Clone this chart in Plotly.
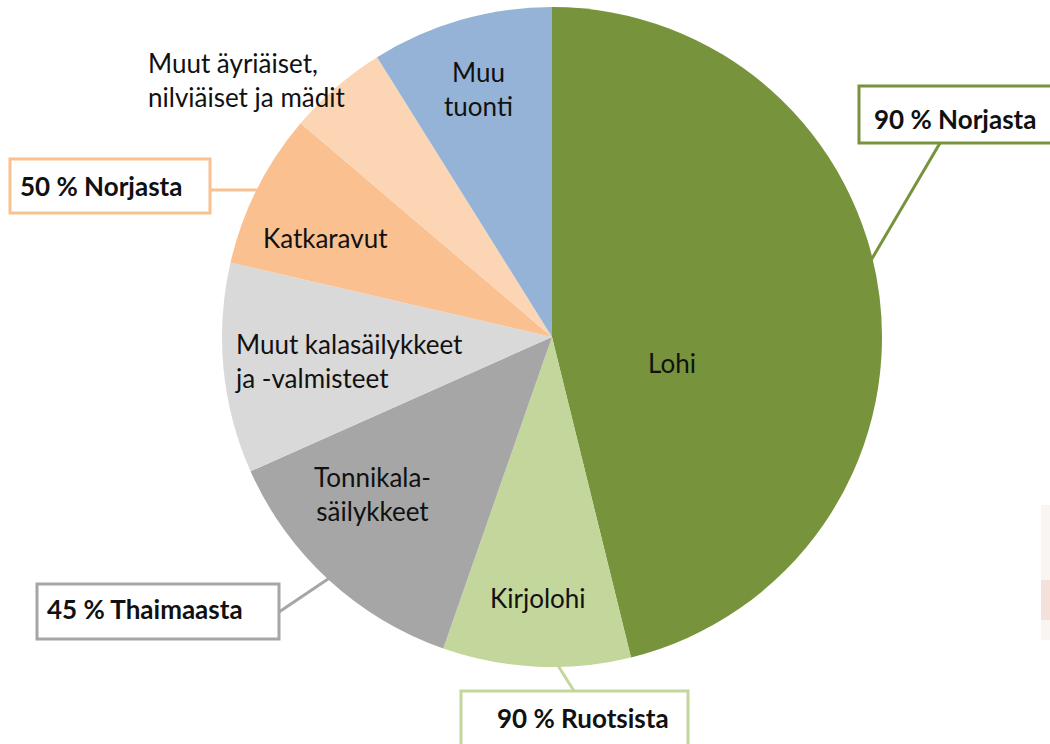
import plotly.graph_objects as go

labels = ["Lohi", "Kirjolohi", "Tonnikala-säilykkeet", "Muut kalasäilykkeet ja -valmisteet",
          "Katkaravut", "Muut äyriäiset, nilviäiset ja mädit", "Muu tuonti"]
values = [46.2, 9.2, 13.0, 10.3, 7.6, 4.9, 8.9]
colors = ["#77933C", "#C3D69B", "#A6A6A6", "#D9D9D9", "#FAC090", "#FCD5B5", "#95B3D7"]
lab_text = ["Lohi", "Kirjolohi", "Tonnikala-<br>säilykkeet", "Muut kalasäilykkeet<br>ja -valmisteet",
            "Katkaravut", "Muut äyriäiset,<br>nilviäiset ja mädit", "Muu<br>tuonti"]
callouts = ["90 % Norjasta", "50 % Norjasta", "45 % Thaimaasta", "90 % Ruotsista"]

W, H = 1050, 744
def px(x): return x / W
def py(y): return 1 - y / H

fig = go.Figure(go.Pie(
    labels=labels, values=values, sort=False, direction="clockwise", rotation=0,
    marker=dict(colors=colors, line=dict(width=0)),
    textinfo="none", hoverinfo="label+value", showlegend=False,
    domain=dict(x=[px(222), px(882)], y=[py(667), py(7)]),
))

FONT = "Lato"
lab_pos = [
    (672, 363, "center"), (538, 598, "center"), (372, 494, "center"),
    (233, 361, "left"), (325, 238, "center"), (146, 80, "left"), (478, 89, "center"),
]
for (x, y, al), t in zip(lab_pos, lab_text):
    fig.add_annotation(x=px(x), y=py(y), xref="paper", yref="paper", text=t, showarrow=False,
                       xanchor="left" if al == "left" else "center", yanchor="middle",
                       align=al, font=dict(family=FONT, size=26, color="#111111"))

boxes = [
    (859, 86, 1060, 143, colors[0], 872, 119),
    (10, 159, 210, 213, colors[4], 18, 186),
    (37, 584, 279, 639, colors[2], 45, 609),
    (461, 691, 688, 760, colors[1], 495, 718),
]
lines = [
    (940, 143, 870, 262, colors[0]),
    (210, 190, 258, 190, colors[4]),
    (279, 612, 331, 577, colors[2]),
    (574, 691, 557, 664, colors[1]),
]
for x0, y0, x1, y1, c in lines:
    fig.add_shape(type="line", xref="paper", yref="paper", x0=px(x0), y0=py(y0), x1=px(x1), y1=py(y1),
                  line=dict(color=c, width=3))
for (x0, y0, x1, y1, c, tx, ty), t in zip(boxes, callouts):
    fig.add_shape(type="rect", xref="paper", yref="paper", x0=px(x0), y0=py(y0), x1=px(x1), y1=py(y1),
                  line=dict(color=c, width=3), fillcolor="white")
    fig.add_annotation(x=px(tx), y=py(ty), xref="paper", yref="paper", text="<b>" + t + "</b>",
                       showarrow=False, xanchor="left", yanchor="middle",
                       font=dict(family=FONT, size=26, color="#111111"))

# faint pinkish smudge at the right edge of the reference image
fig.add_shape(type="rect", xref="paper", yref="paper", x0=px(1041), y0=py(640), x1=px(1052), y1=py(505),
              line=dict(width=0), fillcolor="rgba(240,215,205,0.25)", layer="below")
fig.add_shape(type="rect", xref="paper", yref="paper", x0=px(1041), y0=py(620), x1=px(1052), y1=py(580),
              line=dict(width=0), fillcolor="rgba(230,180,165,0.3)", layer="below")

fig.update_layout(width=W, height=H, margin=dict(l=0, r=0, t=0, b=0),
                  paper_bgcolor="white", plot_bgcolor="white")
fig.write_html("out.html", config={"displayModeBar": False},
               post_script="document.body.style.margin='0';document.body.style.overflow='hidden';")
